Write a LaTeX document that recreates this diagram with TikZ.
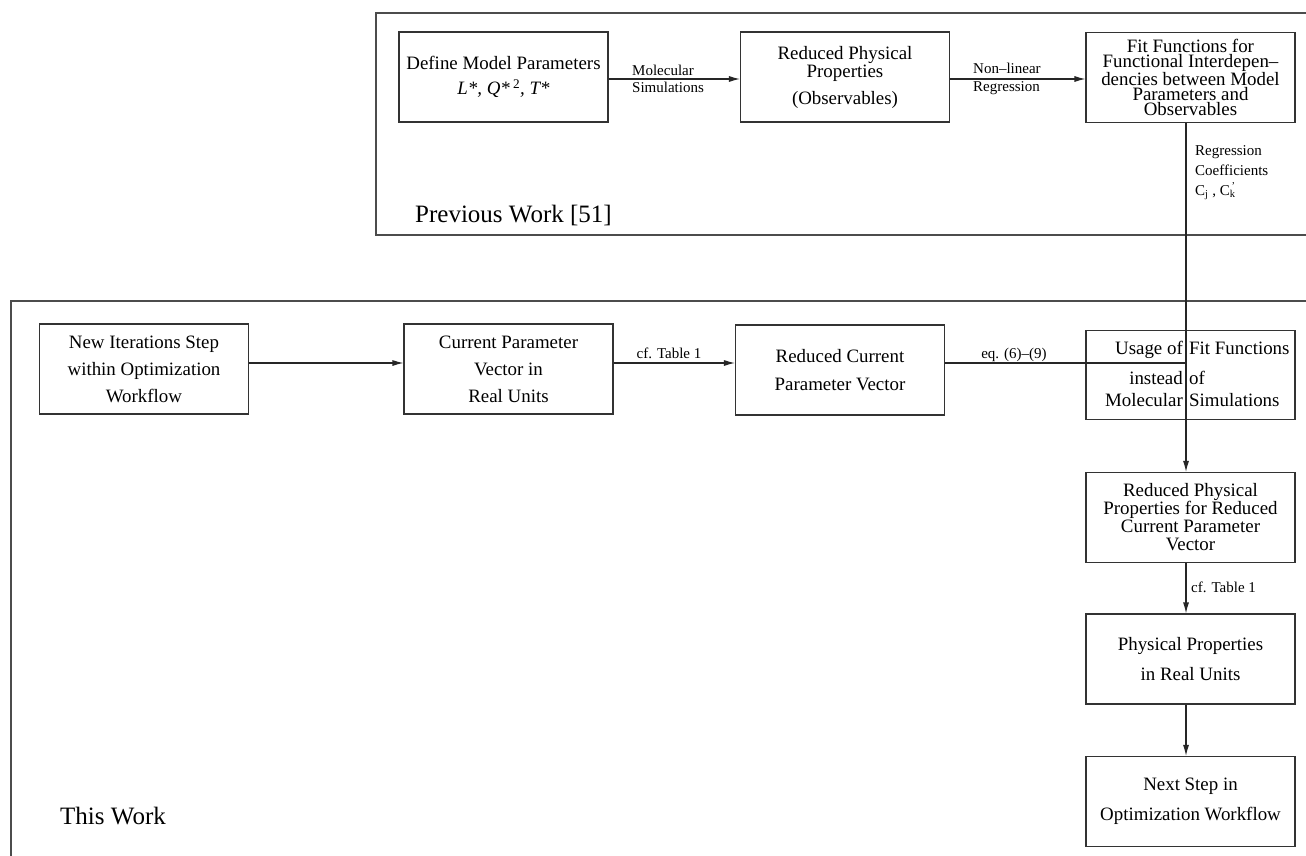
\documentclass[tikz,border=0pt]{standalone}
\usepackage{fontspec}
\setmainfont{Liberation Serif}
\usetikzlibrary{arrows.meta}
\begin{document}
\begin{tikzpicture}[x=1pt,y=-1pt,
 box/.style={draw=black!80, line width=1.1pt, minimum width=209pt, minimum height=90pt, align=center, inner sep=0pt, font=\fontsize{18.9}{27}\selectfont},
 txt/.style={inner sep=0pt, font=\fontsize{18.9}{27}\selectfont},
 lbl/.style={inner sep=0pt, font=\fontsize{15}{17.5}\selectfont},
 big/.style={inner sep=0pt, font=\fontsize{25}{30}\selectfont},
 frame/.style={draw=black!70, line width=1.1pt},
 ln/.style={draw=black!85, line width=1.1pt},
 arr/.style={ln, -{Latex[length=11pt,width=6pt]}}]
\clip (0,0) rectangle (1306,856);
\fill[white] (0,0) rectangle (1306,856);
% frames
\draw[frame] (376,13) rectangle (1330,235);
\draw[frame] (11,301) rectangle (1330,880);
\node[big, anchor=base west] (prev) at (415,222) {Previous Work [51]};
\node[big, anchor=base west] (this) at (60,824) {This Work};
% top row
\node[box, font=\fontsize{18.9}{25}\selectfont] (define) at (503.5,77) {Define Model Parameters\\\textit{L*, Q*}\,\textsuperscript{2}\textit{, T*}};
\node[box, font=\fontsize{18.9}{18}\selectfont] (obs) at (845,77) {Reduced Physical\\Properties\\[9pt](Observables)};
\node[box, font=\fontsize{18.9}{15.2}\selectfont] (fit) at (1190.5,77.5) {Fit Functions for\\Functional Interdepen--\\dencies between Model\\Parameters and\\Observables};
% bottom row
\node[box] (newit) at (144,369) {New Iterations Step\\within Optimization\\Workflow};
\node[box] (cur) at (508.5,369) {Current Parameter\\Vector in\\Real Units};
\node[box, font=\fontsize{18.9}{28}\selectfont] (redcur) at (840,370) {Reduced Current\\Parameter Vector};
\node[box, minimum height=89pt] (usage) at (1190.5,375) {};
\node[txt, anchor=base east] (u1) at (1183,354) {Usage of};
\node[txt, anchor=base west] (u2) at (1189,354) {Fit Functions};
\node[txt, anchor=base east] (u3) at (1183,384) {instead};
\node[txt, anchor=base west] (u4) at (1189,384) {of};
\node[txt, anchor=base east] (u5) at (1183,406) {Molecular};
\node[txt, anchor=base west] (u6) at (1189,406) {Simulations};
\node[box, font=\fontsize{18.9}{18}\selectfont] (redphys) at (1190.5,517.5) {Reduced Physical\\Properties for Reduced\\Current Parameter\\Vector};
\node[box, font=\fontsize{18.9}{30}\selectfont] (phys) at (1190.5,659) {Physical Properties\\in Real Units};
\node[box, font=\fontsize{18.9}{30}\selectfont] (next) at (1190.5,801.5) {Next Step in\\Optimization Workflow};
% helper coordinates
\coordinate (vx) at (1186,0);
\coordinate (rowA) at (0,79);
\coordinate (rowB) at (0,363);
% connectors top
\draw[arr] (define.east |- rowA) -- (obs.west |- rowA);
\node[lbl, anchor=west, align=left] (lmol) at (632,79) {Molecular\\Simulations};
\draw[arr] (obs.east |- rowA) -- (fit.west |- rowA);
\node[lbl, anchor=west, align=left] (lreg) at (973,79) {Non--linear\\Regression};
% vertical line
\draw[arr] (fit.south -| vx) -- (redphys.north -| vx);
\node[lbl, anchor=north west, align=left, font=\fontsize{15}{20}\selectfont] (lcoef) at (1195,145) {Regression\\Coefficients\\C\textsubscript{j} , C\rlap{\textsuperscript{\,'}}\textsubscript{k}};
% connectors bottom
\draw[arr] (newit.east |- rowB) -- (cur.west |- rowB);
\draw[arr] (cur.east |- rowB) -- (redcur.west |- rowB);
\node[lbl, anchor=base] (lcf) at (669,358) {cf. Table 1};
\draw[ln] (redcur.east |- rowB) -- (vx |- rowB);
\node[lbl, anchor=base] (leq) at (1014,358) {eq. (6)--(9)};
\draw[arr] (redphys.south -| vx) -- (phys.north -| vx);
\node[lbl, anchor=west] (lcf2) at (1191,587) {cf. Table 1};
\draw[arr] (phys.south -| vx) -- (next.north -| vx);
\end{tikzpicture}
\end{document}
